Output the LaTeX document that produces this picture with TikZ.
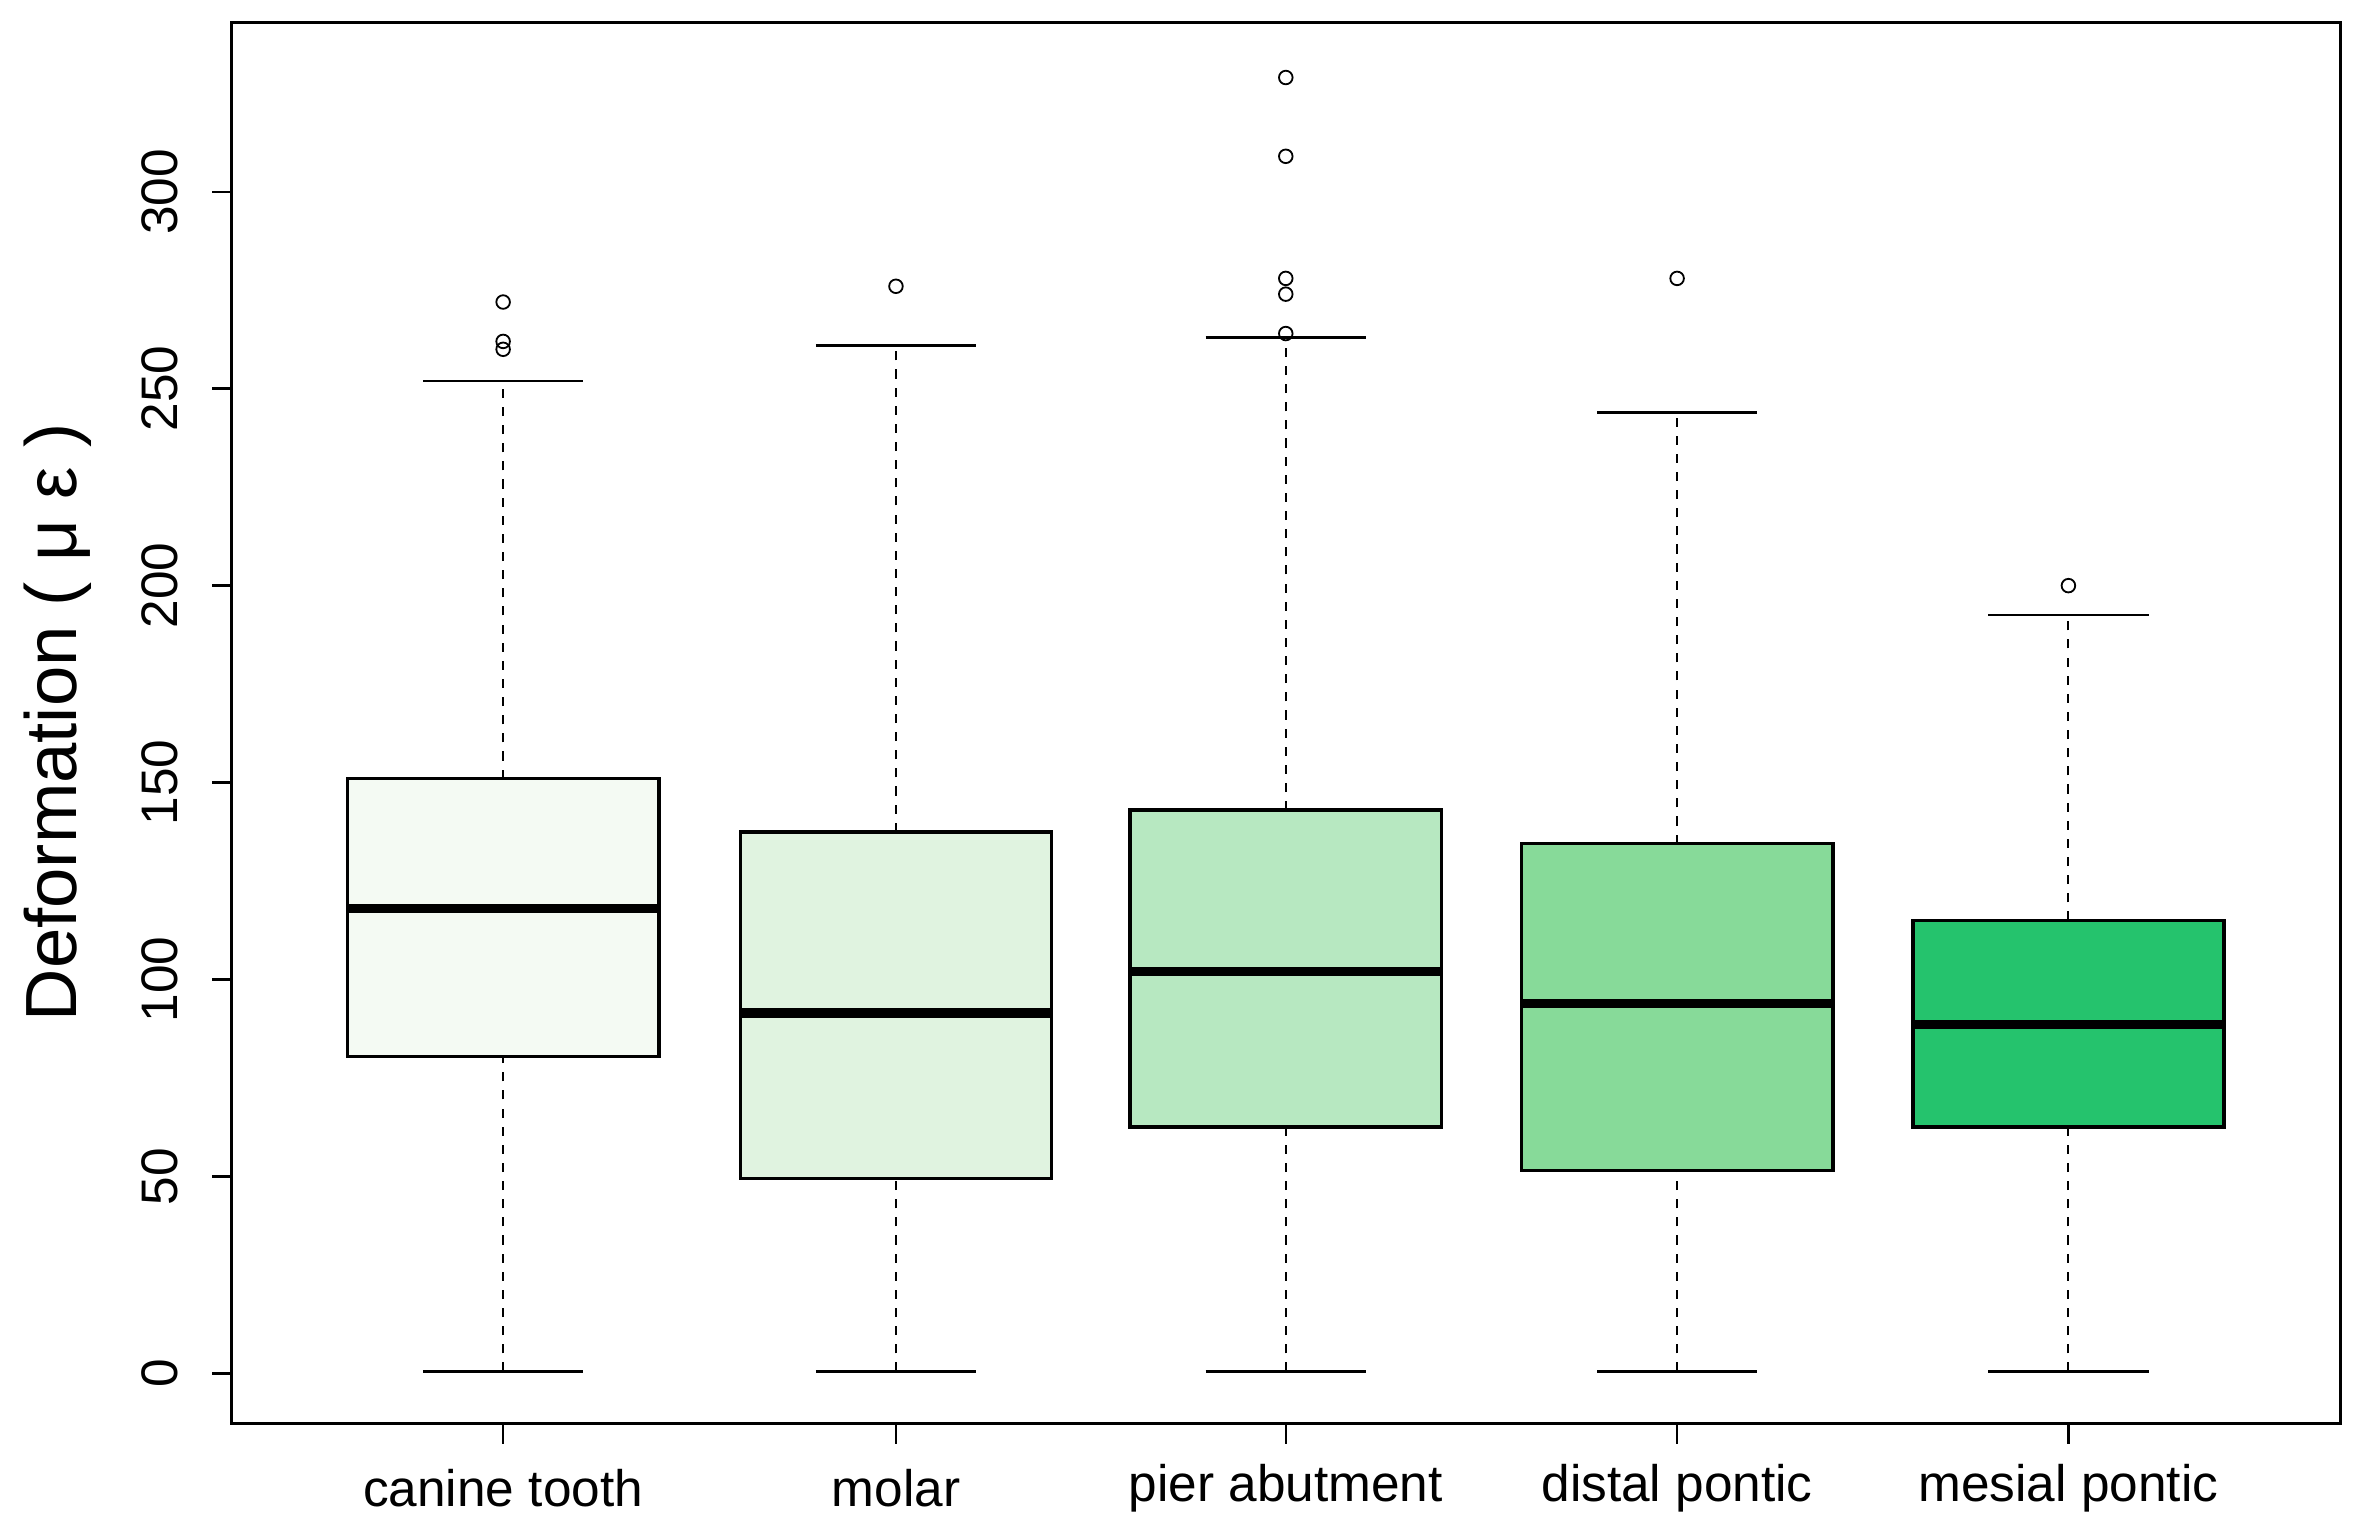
\documentclass[tikz,border=0pt]{standalone}
\usepackage{fontspec}
\setmainfont{Liberation Sans}
\begin{document}
\begin{tikzpicture}[x=0.5pt,y=-0.5pt,
  bx/.style={draw=black,line width=1.2pt},
  med/.style={line width=3pt},
  wh/.style={dashed,line width=0.7pt},
  wcap/.style={line width=0.8pt},
  outlier/.style={draw,circle,inner sep=0pt,minimum size=4.5pt,line width=0.6pt},
  lab/.style={font=\fontsize{17pt}{19pt}\selectfont}]
\useasboundingbox (0,0) rectangle (1560,1013);
\definecolor{c1}{HTML}{F4FAF3}\definecolor{c2}{HTML}{E0F3E0}
\definecolor{c3}{HTML}{B7E8C1}\definecolor{c4}{HTML}{87DA99}
\definecolor{c5}{HTML}{25C36D}
\node[draw,line width=1pt,minimum width=698pt,minimum height=463.5pt,inner sep=0pt] (frame) at (851,478.5) {};
\begin{scope}[shift={(0,909)},y=1.3035pt]
 \foreach \v in {0,50,...,300}{
  \draw[line width=0.8pt] (153,\v) -- (140,\v);
  \node[lab,rotate=90] at (106,\v) {\v};}
 \foreach \x/\lo/\hi/\me/\wt/\col/\name/\outs in {
   333/80.5/151/118/252/c1/canine tooth/{260,262,272},
   593/49.5/137.5/91.5/261/c2/molar/{276},
   851/62.5/143/102/263/c3/pier abutment/{264,274,278,309,329},
   1110/51.5/134.5/94/244/c4/distal pontic/{278},
   1369/62.5/115/88.5/192.5/c5/mesial pontic/{200}}{
  \draw[wh] (\x,0.5) -- (\x,\lo) (\x,\hi) -- (\x,\wt);
  \draw[wcap] (\x-53,0.5) -- (\x+53,0.5) (\x-53,\wt) -- (\x+53,\wt);
  \draw[bx,fill=\col] (\x-103,\lo) rectangle (\x+103,\hi);
  \draw[med] (\x-103,\me) -- (\x+103,\me);
  \foreach \o in \outs {\node[outlier] at (\x,\o) {};}
 }
\end{scope}
\foreach \x/\name in {333/canine tooth,593/molar,851/pier abutment,1110/distal pontic,1369/mesial pontic}{
  \draw[line width=0.8pt] (\x,942) -- (\x,956);
  \node[lab] at (\x,985) {\name};}
\node[rotate=90,font=\fontsize{24pt}{26pt}\selectfont] (yl) at (38,478) {Deformation ( μ ε )};
\end{tikzpicture}
\end{document}
